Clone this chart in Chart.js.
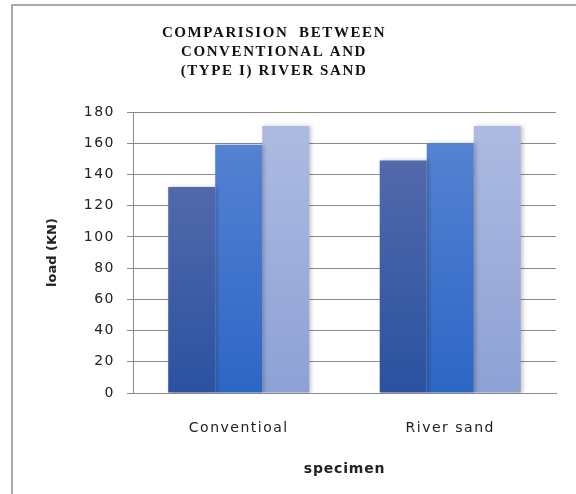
<!DOCTYPE html>
<html>
<head>
<meta charset="utf-8">
<script src="https://cdn.jsdelivr.net/npm/chart.js@4.4.1/dist/chart.umd.min.js"></script>
<style>
  html, body { margin: 0; padding: 0; background: #fff; }
  #wrap { position: relative; width: 576px; height: 494px; overflow: hidden; }
  #frame { position: absolute; left: 11px; top: 4px; width: 600px; height: 520px;
           border-left: 2px solid #a9a9a9; border-top: 2px solid #a9a9a9; }
  canvas { position: absolute; left: 0; top: 0; }
</style>
</head>
<body>
<div id="wrap">
  <div id="frame"></div>
  <canvas id="c" width="576" height="494"></canvas>
</div>
<script>
// Specimens and measured failure loads (kN)
const categories = ['Conventioal', 'River sand'];
const series1 = [132, 149];
const series2 = [159, 160];
const series3 = [171, 171];
const titleLines = ['COMPARISION  BETWEEN', 'CONVENTIONAL AND', '(TYPE I) RIVER SAND'];
const yTitle = 'load (KN)';
const xTitle = 'specimen';

// top / bottom colours for each series' vertical gradient
const palettes = [
  ['#5269ab', '#2a52a0'],
  ['#5582d2', '#2d66c6'],
  ['#adbbe2', '#8ea1d5']
];

function barGradient(idx) {
  return function (context) {
    const chart = context.chart;
    const y = chart.scales.y;
    if (!y || context.type !== 'data') return palettes[idx][1];
    const v = context.parsed ? context.parsed.y : 0;
    const top = y.getPixelForValue(v);
    const base = y.getPixelForValue(0);
    if (!isFinite(top) || !isFinite(base) || top === base) return palettes[idx][1];
    const g = chart.ctx.createLinearGradient(0, top, 0, base);
    g.addColorStop(0, palettes[idx][0]);
    g.addColorStop(1, palettes[idx][1]);
    return g;
  };
}

// letter spacing used by the tick labels
const spacingPlugin = {
  id: 'spacing',
  beforeLayout(chart) { chart.ctx.letterSpacing = '1.5px'; },
  beforeDraw(chart) { chart.ctx.letterSpacing = '1.5px'; }
};

// soft drop shadow behind the bars
const shadowPlugin = {
  id: 'barShadow',
  beforeDatasetsDraw(chart) {
    const ctx = chart.ctx;
    ctx.save();
    ctx.shadowColor = 'rgba(0,0,0,0.22)';
    ctx.shadowBlur = 4;
    ctx.shadowOffsetX = 2;
    ctx.shadowOffsetY = 0;
  },
  afterDatasetsDraw(chart) { chart.ctx.restore(); }
};

// chart title and axis titles
const textPlugin = {
  id: 'texts',
  afterDraw(chart) {
    const ctx = chart.ctx;
    const area = chart.chartArea;
    ctx.save();
    ctx.fillStyle = '#111';
    ctx.textAlign = 'center';
    ctx.textBaseline = 'alphabetic';
    ctx.font = 'bold 15px "Liberation Serif", "Times New Roman", serif';
    ctx.letterSpacing = '1.6px';
    const baselines = [37, 56, 75];
    titleLines.forEach((t, i) => ctx.fillText(t, 274, baselines[i]));

    ctx.fillStyle = '#222';
    ctx.textBaseline = 'middle';
    ctx.font = 'bold 14px "DejaVu Sans", sans-serif';
    ctx.letterSpacing = '0.8px';
    ctx.fillText(xTitle, (area.left + area.right) / 2, 469);

    ctx.font = 'bold 13px "DejaVu Sans", sans-serif';
    ctx.letterSpacing = '0px';
    ctx.translate(53, (area.top + area.bottom) / 2);
    ctx.rotate(-Math.PI / 2);
    ctx.fillText(yTitle, 0, 0);
    ctx.restore();
  }
};

const gridColor = '#8a8a8a';

new Chart(document.getElementById('c'), {
  type: 'bar',
  data: {
    labels: categories,
    datasets: [
      { data: series1, backgroundColor: barGradient(0) },
      { data: series2, backgroundColor: barGradient(1) },
      { data: series3, backgroundColor: barGradient(2) }
    ]
  },
  options: {
    responsive: false,
    animation: false,
    devicePixelRatio: 1,
    layout: { padding: { left: 20, right: 20, top: 112, bottom: 0 } },
    datasets: { bar: { categoryPercentage: 0.667, barPercentage: 1.0, borderWidth: 0 } },
    plugins: { legend: { display: false }, title: { display: false }, tooltip: { enabled: false } },
    scales: {
      x: {
        grid: { display: false, drawTicks: false },
        border: { display: true, color: gridColor, width: 1 },
        ticks: { color: '#222', padding: 27, font: { family: '"DejaVu Sans", sans-serif', size: 14 } },
        afterFit(scale) { scale.height = 101; }
      },
      y: {
        min: 0, max: 180,
        grid: { color: gridColor, lineWidth: 1, tickLength: 6, drawTicks: true },
        border: { display: true, color: gridColor, width: 1 },
        ticks: { stepSize: 20, color: '#222', padding: 12, font: { family: '"DejaVu Sans", sans-serif', size: 14 } },
        afterFit(scale) { scale.width = 113; }
      }
    }
  },
  plugins: [spacingPlugin, shadowPlugin, textPlugin]
});
</script>
</body>
</html>
